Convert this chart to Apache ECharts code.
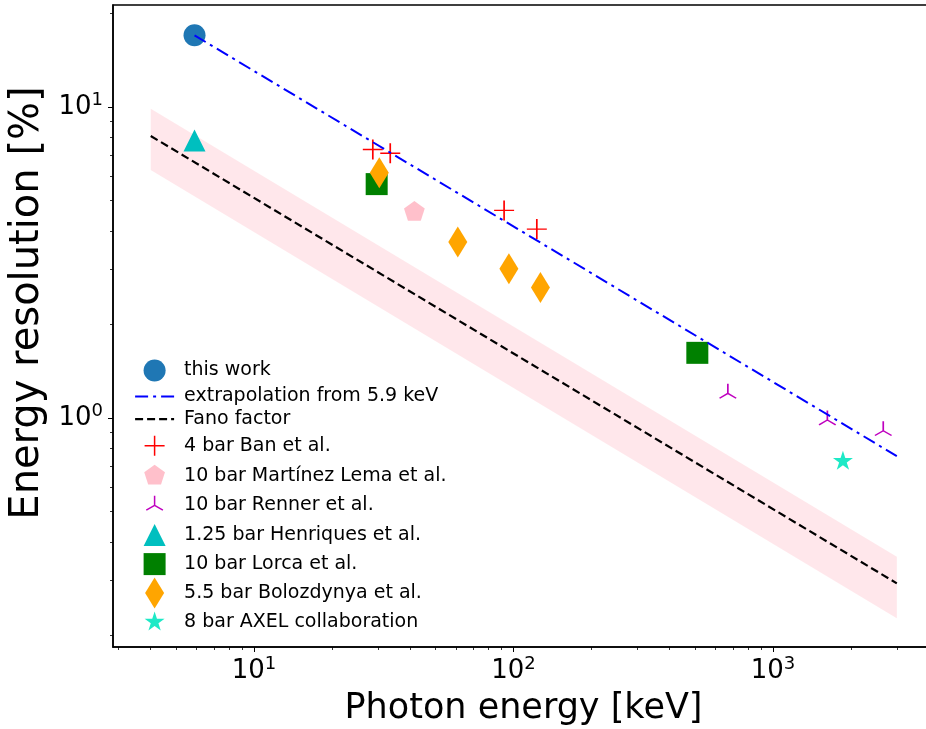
<!DOCTYPE html>
<html>
<head>
<meta charset="utf-8">
<script src="https://cdn.jsdelivr.net/npm/echarts@6/dist/echarts.min.js"></script>
<style>
  html, body { margin: 0; padding: 0; background: #fff; }
  #chart { width: 926px; height: 729px; }
</style>
</head>
<body>
<div id="chart"></div>
<script>
// values: photon energy [keV], resolution [%]
var thisWorkE = [5.9];
var thisWorkR = [17.0];
var extrapE = [5.9, 3000];
var extrapR = [17.0, 0.754];
var fanoE = [4, 3000];
var fanoR = [8.07, 0.294];
var bandE = [4, 3000];
var bandHigh = [9.87, 0.358];
var bandLow = [6.27, 0.227];
var banE = [28.7, 33.5, 92, 123];
var banR = [7.3, 7.1, 4.65, 4.05];
var lemaE = [41.5];
var lemaR = [4.6];
var rennerE = [670, 1620, 2660];
var rennerR = [1.2, 0.985, 0.91];
var henriquesE = [5.9];
var henriquesR = [7.8];
var lorcaE = [29.7, 511];
var lorcaR = [5.65, 1.62];
var boloE = [30.4, 61, 96, 127];
var boloR = [6.15, 3.68, 3.02, 2.63];
var axelE = [1860];
var axelR = [0.726];

// tick positions
var xMajor = [10, 100, 1000];
var xMinor = [3, 4, 5, 6, 7, 8, 9, 20, 30, 40, 50, 60, 70, 80, 90,
              200, 300, 400, 500, 600, 700, 800, 900, 2000, 3000, 4000];
var yMajor = [1, 10];
var yMinor = [0.2, 0.3, 0.4, 0.5, 0.6, 0.7, 0.8, 0.9, 2, 3, 4, 5, 6, 7, 8, 9, 20];

var FONT = 'DejaVu Sans';

function zip(a, b) {
    return a.map(function (v, i) { return [v, b[i]]; });
}

// markers drawn in a fixed 39x31 box so that sizes are in pixels
var box = 'M-19.5 -15.5M19.5 15.5';
var mk = {
    circle: 'path://' + box + 'M11 0A11 11 0 1 1 -11 0A11 11 0 1 1 11 0Z',
    triangle: 'path://' + box + 'M0 -11L11 11L-11 11Z',
    square: 'path://' + box + 'M-11 -11L11 -11L11 11L-11 11Z',
    thinDiamond: 'path://' + box + 'M0 -15.5L9.5 0L0 15.5L-9.5 0Z',
    plus: 'path://' + box + 'M0 -10L0 10M-10 0L10 0',
    pentagon: 'path://' + box + 'M0 -10.9L10.37 -3.37L6.41 8.82L-6.41 8.82L-10.37 -3.37Z',
    tri: 'path://' + box + 'M0 0L0 -9.6M0 0L-8.31 4.8M0 0L8.31 4.8',
    star: 'path://' + box + 'M0 -10.5L2.36 -3.25L9.99 -3.25L3.82 1.24L6.17 8.5L0 4.01L-6.17 8.5L-3.82 1.24L-9.99 -3.25L-2.36 -3.25Z'
};

function scatter(name, e, r, symbol, color, stroke) {
    return {
        name: name,
        type: 'scatter',
        data: zip(e, r),
        symbol: symbol,
        symbolSize: [39, 31],
        itemStyle: stroke
            ? { color: 'rgba(0,0,0,0)', borderColor: color, borderWidth: 1.5, opacity: 1 }
            : { color: color, borderWidth: 0, opacity: 1 }
    };
}

function powLabel(v) {
    var p = Math.round(Math.log(v) / Math.LN10);
    return '{b|10}{s|' + p + '}';
}
var labelRich = {
    b: { fontFamily: FONT, fontSize: 26, color: '#000' },
    s: { fontFamily: FONT, fontSize: 18, color: '#000', padding: [0, 0, 14, 0] }
};

var bandPts = zip(bandE, bandHigh).concat(zip(bandE, bandLow).reverse());
var noMarker = { color: 'rgba(0,0,0,0)', borderColor: 'rgba(0,0,0,0)', borderWidth: 0 };

var chart = echarts.init(document.getElementById('chart'));
var option = {
    animation: false,
    backgroundColor: '#fff',
    grid: {
        left: 113, top: 5, width: 821, height: 642,
        outerBoundsMode: 'none',
        show: true, borderColor: '#000', borderWidth: 1.5
    },
    xAxis: [{
        type: 'log', min: 2.862, max: 4173,
        name: 'Photon energy [keV]', nameLocation: 'middle', nameGap: 44,
        nameTextStyle: { fontFamily: FONT, fontSize: 35, color: '#000' },
        axisLine: { show: true, lineStyle: { color: '#000', width: 1.5 } },
        axisTick: { show: true, length: 5, customValues: xMajor, lineStyle: { color: '#000', width: 1 } },
        axisLabel: { customValues: xMajor, margin: 8, formatter: powLabel, rich: labelRich },
        splitLine: { show: false }
    }, {
        type: 'log', min: 2.862, max: 4173, position: 'bottom',
        axisLine: { show: false },
        axisTick: { show: true, length: 3, customValues: xMinor, lineStyle: { color: '#000', width: 0.8 } },
        axisLabel: { show: false },
        splitLine: { show: false }
    }],
    yAxis: [{
        type: 'log', min: 0.1835, max: 21.28,
        name: 'Energy resolution [%]', nameLocation: 'middle', nameGap: 62,
        nameTextStyle: { fontFamily: FONT, fontSize: 40, color: '#000', padding: [0, 0, 0, 46] },
        axisLine: { show: true, lineStyle: { color: '#000', width: 1.5 } },
        axisTick: { show: true, length: 5, customValues: yMajor, lineStyle: { color: '#000', width: 1 } },
        axisLabel: { customValues: yMajor, margin: 10, formatter: powLabel, rich: labelRich },
        splitLine: { show: false }
    }, {
        type: 'log', min: 0.1835, max: 21.28, position: 'left',
        axisLine: { show: false },
        axisTick: { show: true, length: 3, customValues: yMinor, lineStyle: { color: '#000', width: 0.8 } },
        axisLabel: { show: false },
        splitLine: { show: false }
    }],
    legend: {
        orient: 'vertical', left: 129, top: 350,
        itemWidth: 39, itemHeight: 31, itemGap: -2,
        selectedMode: false,
        textStyle: { fontFamily: FONT, fontSize: 19, color: '#000', padding: [0, 0, 0, 5] },
        data: [
            { name: 'this work', icon: mk.circle },
            { name: 'extrapolation from 5.9 keV', itemStyle: noMarker,
              lineStyle: { color: '#0000ff', width: 2, type: [13, 5, 3, 5] } },
            { name: 'Fano factor', itemStyle: noMarker,
              lineStyle: { color: '#000', width: 2.2, type: [8, 4] } },
            { name: '4 bar Ban et al.', icon: mk.plus, itemStyle: { borderWidth: 1.5 } },
            { name: '10 bar Martínez Lema et al.', icon: mk.pentagon },
            { name: '10 bar Renner et al.', icon: mk.tri, itemStyle: { borderWidth: 1.5 } },
            { name: '1.25 bar Henriques et al.', icon: mk.triangle },
            { name: '10 bar Lorca et al.', icon: mk.square },
            { name: '5.5 bar Bolozdynya et al.', icon: mk.thinDiamond },
            { name: '8 bar AXEL collaboration', icon: mk.star }
        ]
    },
    series: [
        {
            type: 'custom',
            silent: true,
            clip: true,
            data: bandPts,
            encode: { x: 0, y: 1 },
            renderItem: function (params, api) {
                if (params.dataIndex !== 0) return null;
                var pts = bandPts.map(function (p) { return api.coord(p); });
                return { type: 'polygon', shape: { points: pts }, style: { fill: 'rgba(255,192,203,0.38)' } };
            }
        },
        scatter('this work', thisWorkE, thisWorkR, mk.circle, '#1f77b4'),
        {
            name: 'extrapolation from 5.9 keV', type: 'line', symbol: 'none',
            data: zip(extrapE, extrapR),
            itemStyle: { color: '#0000ff' },
            lineStyle: { color: '#0000ff', width: 2, type: [13, 5, 3, 5] }
        },
        {
            name: 'Fano factor', type: 'line', symbol: 'none',
            data: zip(fanoE, fanoR),
            itemStyle: { color: '#000' },
            lineStyle: { color: '#000', width: 2.2, type: [8, 4] }
        },
        scatter('4 bar Ban et al.', banE, banR, mk.plus, '#ff0000', true),
        scatter('10 bar Martínez Lema et al.', lemaE, lemaR, mk.pentagon, '#ffc0cb'),
        scatter('10 bar Renner et al.', rennerE, rennerR, mk.tri, '#bf00bf', true),
        scatter('1.25 bar Henriques et al.', henriquesE, henriquesR, mk.triangle, '#00bfbf'),
        scatter('10 bar Lorca et al.', lorcaE, lorcaR, mk.square, '#008000'),
        scatter('5.5 bar Bolozdynya et al.', boloE, boloR, mk.thinDiamond, '#ffa500'),
        scatter('8 bar AXEL collaboration', axelE, axelR, mk.star, '#1de9c6')
    ]
};
chart.setOption(option);
</script>
</body>
</html>
